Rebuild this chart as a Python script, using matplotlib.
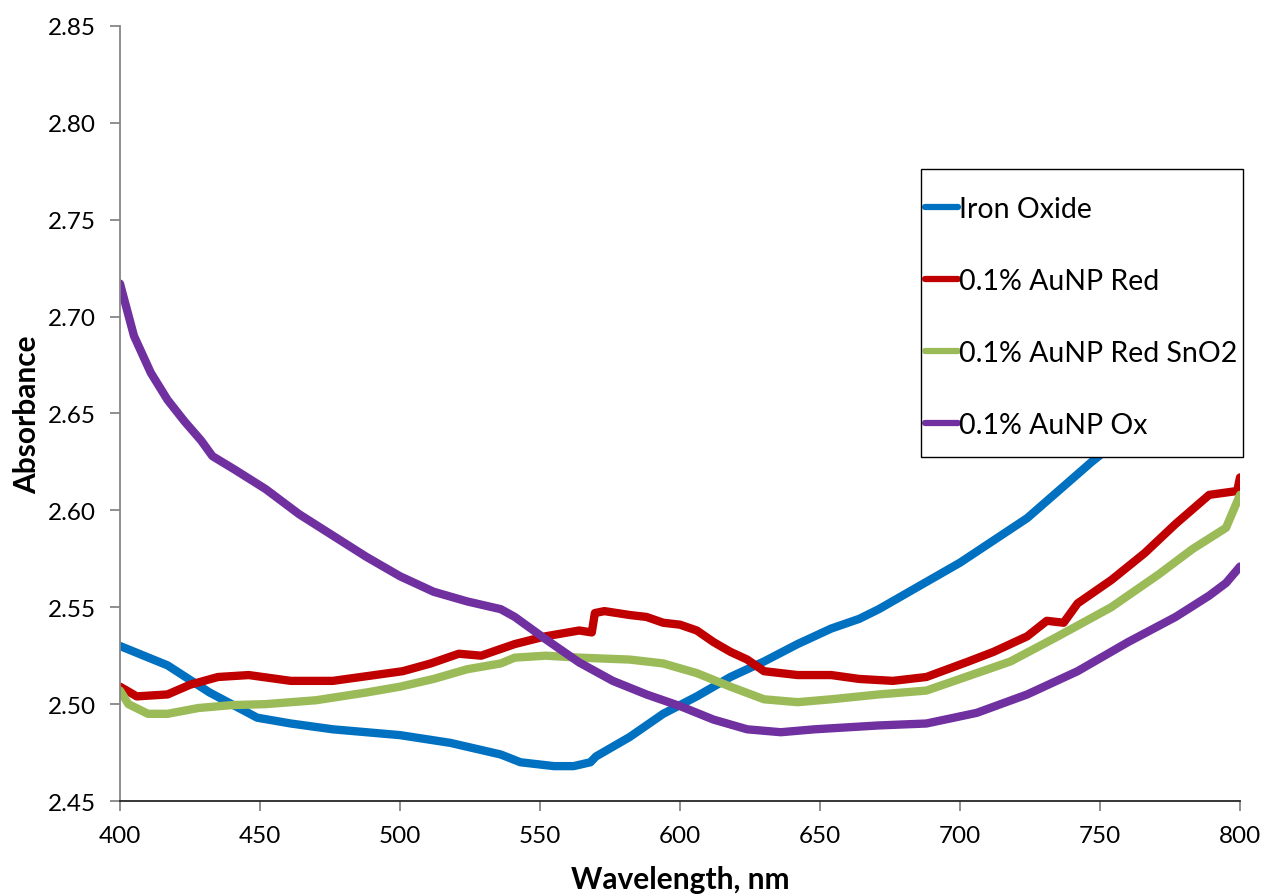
import matplotlib.pyplot as plt
from matplotlib.patches import Rectangle
import numpy as np

plt.rcParams["font.family"] = ["Lato", "DejaVu Sans"]

# Iron Oxide
iron_x = [400, 417, 432, 449, 461, 476, 500, 518, 536, 543, 555, 562, 568, 570,
          582, 594, 606, 618, 630, 642, 654, 664, 671, 700, 724, 747, 760, 780, 800]
iron_y = [2.530, 2.520, 2.506, 2.493, 2.490, 2.487, 2.484, 2.480, 2.474, 2.470,
          2.468, 2.468, 2.470, 2.473, 2.483, 2.495, 2.504, 2.514, 2.522, 2.531,
          2.539, 2.544, 2.549, 2.573, 2.596, 2.625, 2.640, 2.668, 2.700]

# 0.1% AuNP Red
red_x = [400, 406, 417, 425, 435, 446, 461, 476, 491, 501, 511, 521, 529, 541,
         552, 564, 568.5, 569.6, 573, 582, 588, 594, 600, 606, 612, 618, 624,
         630, 642, 654, 664, 676, 688, 703, 712, 724, 731, 737, 742, 754, 766,
         777, 789, 799, 800]
red_y = [2.509, 2.504, 2.505, 2.510, 2.514, 2.515, 2.512, 2.512, 2.515, 2.517,
         2.521, 2.526, 2.525, 2.531, 2.535, 2.538, 2.537, 2.547, 2.548, 2.546,
         2.545, 2.542, 2.541, 2.538, 2.532, 2.527, 2.523, 2.517, 2.515, 2.515,
         2.513, 2.512, 2.514, 2.522, 2.527, 2.535, 2.543, 2.542, 2.552, 2.564,
         2.578, 2.593, 2.608, 2.610, 2.617]

# 0.1% AuNP Red SnO2
sno2_x = [400, 403, 410, 417, 428, 440, 452, 470, 488, 500, 512, 524, 536, 541,
          552, 564, 582, 594, 606, 618, 630, 642, 654, 671, 688, 700, 718, 735,
          754, 771, 783, 795, 800]
sno2_y = [2.507, 2.500, 2.495, 2.495, 2.498, 2.4995, 2.500, 2.502, 2.506, 2.509,
          2.513, 2.518, 2.521, 2.524, 2.525, 2.524, 2.523, 2.521, 2.516, 2.509,
          2.5025, 2.501, 2.5025, 2.505, 2.507, 2.513, 2.522, 2.535, 2.550, 2.567,
          2.580, 2.591, 2.608]

# 0.1% AuNP Ox
ox_x = [400, 405, 411, 417, 423, 429, 433, 441, 452, 464, 476, 488, 500, 512,
        524, 536, 541, 552, 564, 576, 588, 600, 612, 624, 636, 648, 671, 688,
        706, 724, 742, 760, 777, 789, 795, 800]
ox_y = [2.717, 2.690, 2.671, 2.657, 2.646, 2.636, 2.628, 2.621, 2.611, 2.598,
        2.587, 2.576, 2.566, 2.558, 2.553, 2.549, 2.545, 2.5335, 2.5215, 2.512,
        2.505, 2.499, 2.492, 2.487, 2.4855, 2.487, 2.489, 2.490, 2.4955, 2.505,
        2.517, 2.532, 2.545, 2.556, 2.5625, 2.571]

labels = ["Iron Oxide", "0.1% AuNP Red", "0.1% AuNP Red SnO2", "0.1% AuNP Ox"]
colors = ["#0070C0", "#C00000", "#9BBB59", "#7030A0"]

fig = plt.figure(figsize=(12.67, 8.95), dpi=100)
ax = fig.add_axes([0.0947, 0.1039, 0.884, 0.866])

for xs, ys, lab, c in zip([iron_x, red_x, sno2_x, ox_x],
                          [iron_y, red_y, sno2_y, ox_y], labels, colors):
    ax.plot(xs, ys, color=c, lw=6, label=lab, solid_capstyle="round",
            solid_joinstyle="round")

ax.set_xlim(400, 800)
ax.set_ylim(2.45, 2.85)
ax.set_xticks(np.arange(400, 801, 50))
ax.set_yticks(np.arange(2.45, 2.851, 0.05))
ax.yaxis.set_major_formatter(plt.FormatStrFormatter("%.2f"))

for s in ["top", "right"]:
    ax.spines[s].set_visible(False)
ax.spines["left"].set_color("#868686")
ax.spines["bottom"].set_color("#262626")
ax.spines["left"].set_linewidth(1.3)
ax.spines["bottom"].set_linewidth(1.3)
ax.tick_params(axis="both", direction="out", length=7, width=1.3,
               color="#868686", labelsize=17.5)
ax.tick_params(axis="y", pad=10)
ax.tick_params(axis="x", pad=10)

ax.set_xlabel("Wavelength, nm", fontsize=21.5, fontweight="bold", labelpad=14)
ax.set_ylabel("Absorbance", fontsize=21.5, fontweight="bold", labelpad=5)

# legend box (white, covers the lines beneath it)
box = Rectangle((0.7152, 0.4439), 0.2875, 0.3716, transform=ax.transAxes,
                facecolor="white", edgecolor="black", lw=1.0, zorder=4,
                clip_on=False)
ax.add_patch(box)

leg = ax.legend(loc="upper left", bbox_to_anchor=(0.7188, 0.781),
                borderaxespad=0, borderpad=0, fontsize=20.5, frameon=False,
                handlelength=1.15, handletextpad=0.05, labelspacing=1.62)
leg.set_zorder(5)
for ln in leg.get_lines():
    ln.set_linewidth(4.5)

fig.savefig("out.png", dpi=100)
